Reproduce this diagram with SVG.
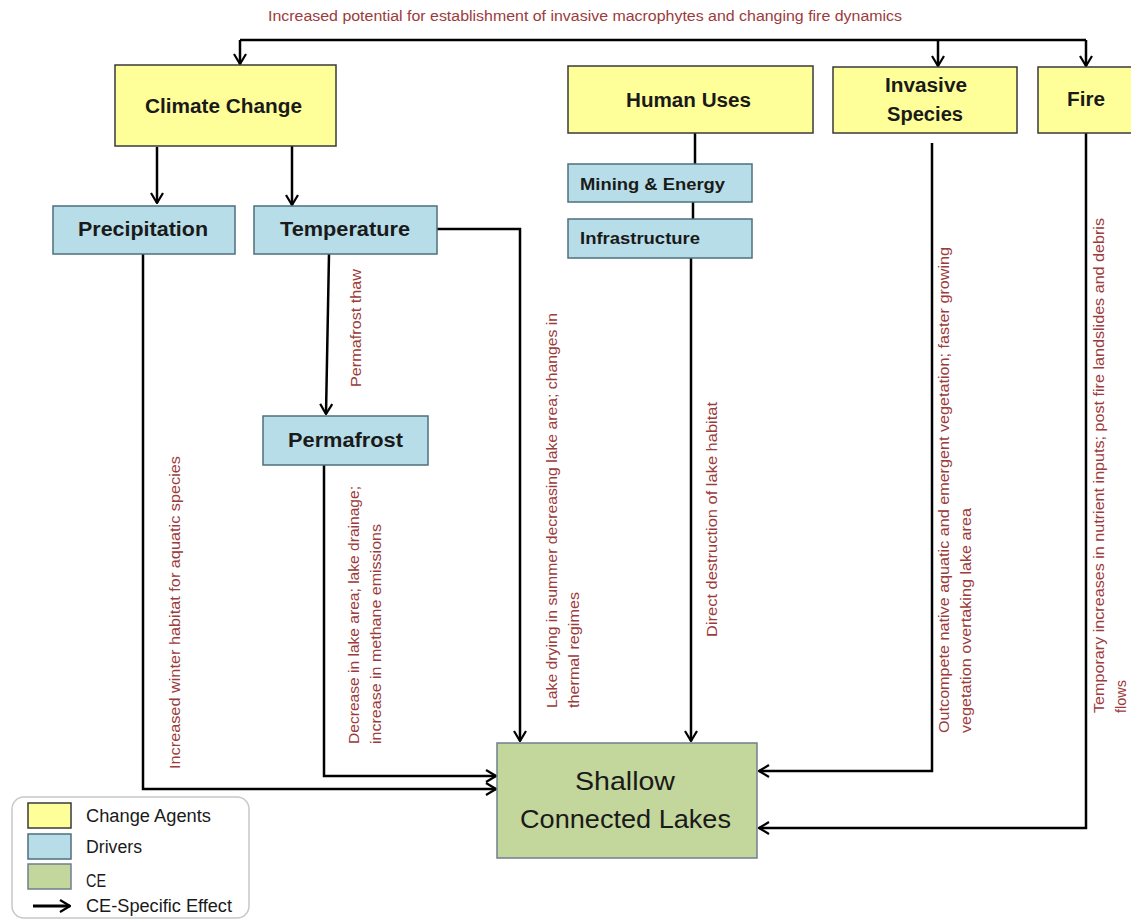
<svg xmlns="http://www.w3.org/2000/svg" width="1131" height="920" viewBox="0 0 1131 920">
<defs>
<style>
.ca{fill:#FFFF99;stroke:#3a3a3a;stroke-width:1.5}
.dr{fill:#B7DDE8;stroke:#4f6f7c;stroke-width:1.5}
.ce{fill:#C3D69B;stroke:#6f7f8f;stroke-width:1.5}
.nt{font-family:"Liberation Sans",Arial,sans-serif;font-weight:bold;font-size:20px;fill:#1a1a1a}
.ns{font-family:"Liberation Sans",Arial,sans-serif;font-weight:bold;font-size:17px;fill:#1a1a1a}
.el{font-family:"Liberation Sans",Arial,sans-serif;font-size:14px;fill:#9B3B3B}
.lg{font-family:"Liberation Sans",Arial,sans-serif;font-size:18px;fill:#1a1a1a}
.cn{fill:none;stroke:#000;stroke-width:2.5}
</style>
<marker id="ah" viewBox="0 0 12 14" refX="11" refY="7" markerWidth="12" markerHeight="14" markerUnits="userSpaceOnUse" orient="auto">
<path d="M1,1 L11,7 L1,13" fill="none" stroke="#000" stroke-width="2.2"/>
</marker>
</defs>
<rect width="1131" height="920" fill="#fff"/>

<text class="el" x="268" y="21" textLength="634" lengthAdjust="spacingAndGlyphs">Increased potential for establishment of invasive macrophytes and changing fire dynamics</text>

<g id="connectors">
<path class="cn" d="M240,40 H1086"/>
<path class="cn" d="M240,40 V64" marker-end="url(#ah)"/>
<path class="cn" d="M938,40 V66" marker-end="url(#ah)"/>
<path class="cn" d="M1086,40 V66" marker-end="url(#ah)"/>
<path class="cn" d="M157,147 V203" marker-end="url(#ah)"/>
<path class="cn" d="M292,146 V205" marker-end="url(#ah)"/>
<path class="cn" d="M329,254 L326,414" marker-end="url(#ah)"/>
<path class="cn" d="M437,229 H520 V741" marker-end="url(#ah)"/>
<path class="cn" d="M143,254 V789 H496" marker-end="url(#ah)"/>
<path class="cn" d="M324,465 V776 H496" marker-end="url(#ah)"/>
<path class="cn" d="M695,133 V164"/>
<path class="cn" d="M693,202 V219"/>
<path class="cn" d="M691,258 V741" marker-end="url(#ah)"/>
<path class="cn" d="M932,143 V771 H759" marker-end="url(#ah)"/>
<path class="cn" d="M1086,133 V828 H759" marker-end="url(#ah)"/>
</g>

<g id="edge-labels">
<text class="el" transform="translate(180,769) rotate(-90)" textLength="313" lengthAdjust="spacingAndGlyphs">Increased winter habitat for aquatic species</text>
<text class="el" transform="translate(361,387) rotate(-90)" textLength="118" lengthAdjust="spacingAndGlyphs">Permafrost thaw</text>
<text class="el" transform="translate(359,744) rotate(-90)" textLength="258" lengthAdjust="spacingAndGlyphs">Decrease in lake area; lake drainage;</text>
<text class="el" transform="translate(381,744) rotate(-90)" textLength="220" lengthAdjust="spacingAndGlyphs">increase in methane emissions</text>
<text class="el" transform="translate(557,708) rotate(-90)" textLength="395" lengthAdjust="spacingAndGlyphs">Lake drying in summer decreasing lake area; changes in</text>
<text class="el" transform="translate(579,708) rotate(-90)" textLength="116" lengthAdjust="spacingAndGlyphs">thermal regimes</text>
<text class="el" transform="translate(717,637) rotate(-90)" textLength="235" lengthAdjust="spacingAndGlyphs">Direct destruction of lake habitat</text>
<text class="el" transform="translate(949,733) rotate(-90)" textLength="486" lengthAdjust="spacingAndGlyphs">Outcompete  native aquatic and emergent  vegetation;  faster growing</text>
<text class="el" transform="translate(971,733) rotate(-90)" textLength="225" lengthAdjust="spacingAndGlyphs">vegetation  overtaking lake area</text>
<text class="el" transform="translate(1104,713) rotate(-90)" textLength="495" lengthAdjust="spacingAndGlyphs">Temporary increases in nutrient inputs; post fire landslides and debris</text>
<text class="el" transform="translate(1126,713) rotate(-90)" textLength="33" lengthAdjust="spacingAndGlyphs">flows</text>
</g>

<g id="climate-change">
<rect class="ca" x="115" y="65" width="221" height="81"/>
<text class="nt" x="145" y="113" textLength="157" lengthAdjust="spacingAndGlyphs">Climate Change</text>
</g>
<g id="human-uses">
<rect class="ca" x="568" y="66" width="245" height="67"/>
<text class="nt" x="626" y="107" textLength="125" lengthAdjust="spacingAndGlyphs">Human Uses</text>
</g>
<g id="invasive-species">
<rect class="ca" x="833" y="67" width="184" height="66"/>
<text class="nt" x="885" y="92" textLength="82" lengthAdjust="spacingAndGlyphs">Invasive</text>
<text class="nt" x="887" y="121" textLength="76" lengthAdjust="spacingAndGlyphs">Species</text>
</g>
<g id="fire">
<rect class="ca" x="1038" y="67" width="100" height="66"/>
<text class="nt" x="1067" y="106" textLength="38" lengthAdjust="spacingAndGlyphs">Fire</text>
</g>
<g id="precipitation">
<rect class="dr" x="53" y="206" width="182" height="48"/>
<text class="nt" x="78" y="236" textLength="130" lengthAdjust="spacingAndGlyphs">Precipitation</text>
</g>
<g id="temperature">
<rect class="dr" x="254" y="206" width="183" height="48"/>
<text class="nt" x="280" y="236" textLength="130" lengthAdjust="spacingAndGlyphs">Temperature</text>
</g>
<g id="mining-energy">
<rect class="dr" x="568" y="164" width="184" height="38"/>
<text class="ns" x="580" y="190" textLength="145" lengthAdjust="spacingAndGlyphs">Mining &amp; Energy</text>
</g>
<g id="infrastructure">
<rect class="dr" x="568" y="219" width="184" height="39"/>
<text class="ns" x="580" y="244" textLength="120" lengthAdjust="spacingAndGlyphs">Infrastructure</text>
</g>
<g id="permafrost">
<rect class="dr" x="263" y="416" width="165" height="49"/>
<text class="nt" x="288" y="447" textLength="115" lengthAdjust="spacingAndGlyphs">Permafrost</text>
</g>
<g id="shallow-connected-lakes">
<rect class="ce" x="497" y="743" width="260" height="115"/>
<text x="575" y="790" font-family="Liberation Sans, Arial, sans-serif" font-size="25" fill="#1a1a1a" textLength="100" lengthAdjust="spacingAndGlyphs">Shallow</text>
<text x="520" y="828" font-family="Liberation Sans, Arial, sans-serif" font-size="25" fill="#1a1a1a" textLength="211" lengthAdjust="spacingAndGlyphs">Connected Lakes</text>
</g>

<g id="legend">
<rect x="12" y="797" width="237" height="121" rx="12" fill="#fff" stroke="#c8c8c8" stroke-width="1.5"/>
<rect class="ca" x="28" y="803" width="43" height="25"/>
<rect class="dr" x="28" y="834" width="43" height="25"/>
<rect class="ce" x="28" y="864" width="43" height="25"/>
<text class="lg" x="86" y="822" textLength="125" lengthAdjust="spacingAndGlyphs">Change Agents</text>
<text class="lg" x="86" y="853" textLength="56" lengthAdjust="spacingAndGlyphs">Drivers</text>
<text class="lg" x="86" y="887" textLength="20" lengthAdjust="spacingAndGlyphs">CE</text>
<text class="lg" x="86" y="912" textLength="146" lengthAdjust="spacingAndGlyphs">CE-Specific Effect</text>
<path d="M33,906 H70" fill="none" stroke="#000" stroke-width="3" marker-end="url(#ah)"/>
</g>
</svg>
